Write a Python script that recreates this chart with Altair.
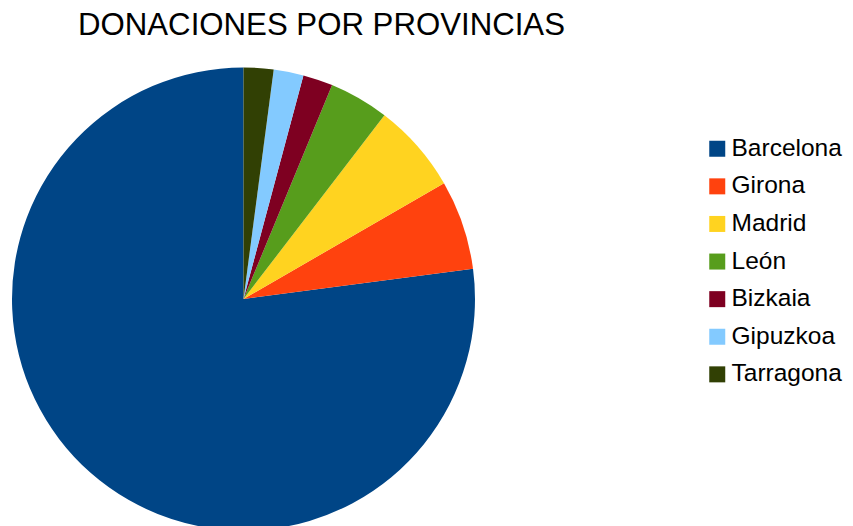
import altair as alt
import pandas as pd

provincias = ["Barcelona", "Girona", "Madrid", "León", "Bizkaia", "Gipuzkoa", "Tarragona"]
donaciones = [37, 3, 3, 2, 1, 1, 1]
colores = ["#004586", "#ff420e", "#ffd320", "#579d1c", "#7e0021", "#83caff", "#314004"]
titulo = "DONACIONES POR PROVINCIAS"

df = pd.DataFrame({
    "provincia": provincias,
    "donaciones": donaciones,
    "orden": [6, 5, 4, 3, 2, 1, 0],
})

pie = alt.Chart(df).mark_arc(outerRadius=231.5, stroke=None).encode(
    x=alt.value(235.5),
    y=alt.value(291),
    theta=alt.Theta("donaciones:Q", stack=True),
    order=alt.Order("orden:Q", sort="ascending"),
    color=alt.Color(
        "provincia:N",
        scale=alt.Scale(domain=provincias, range=colores),
        sort=provincias,
        legend=alt.Legend(
            title=None,
            orient="none",
            legendX=697,
            legendY=128.5,
            symbolType="square",
            symbolSize=256,
            symbolStrokeWidth=0,
            labelFontSize=24.5,
            labelFont="Liberation Sans",
            labelColor="#000000",
            labelOffset=2,
            rowPadding=12.6,
        ),
    ),
)

title_df = pd.DataFrame({"t": [titulo]})
title = alt.Chart(title_df).mark_text(
    font="Liberation Sans", fontSize=31.2, align="center", baseline="alphabetic", color="#000000"
).encode(
    x=alt.value(313.5),
    y=alt.value(26.5),
    text="t:N",
)

chart = alt.layer(pie, title).properties(
    width=837, height=518, padding=0, autosize=alt.AutoSizeParams(type="none")
).configure_view(stroke=None)

chart.save("out.html", embed_options={"renderer": "svg", "actions": False})
